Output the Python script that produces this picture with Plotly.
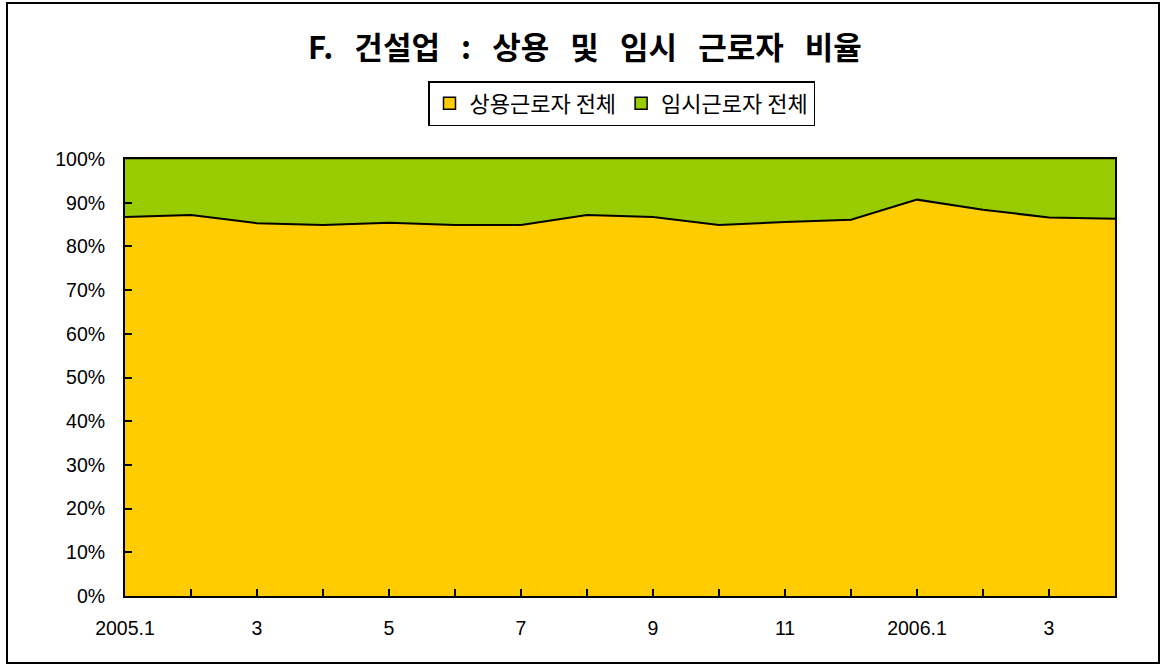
import plotly.graph_objects as go

months = ["2005.1", "2", "3", "4", "5", "6", "7", "8", "9", "10", "11", "12",
          "2006.1", "2", "3", "4"]
tick_labels = ["2005.1", "", "3", "", "5", "", "7", "", "9", "", "11", "",
               "2006.1", "", "3", ""]
regular = [86.7, 87.2, 85.3, 84.9, 85.4, 84.9, 84.9, 87.2, 86.7, 84.9, 85.6, 86.1,
           90.7, 88.4, 86.6, 86.3]
temporary = [13.3, 12.8, 14.7, 15.1, 14.6, 15.1, 15.1, 12.8, 13.3, 15.1, 14.4, 13.9,
             9.3, 11.6, 13.4, 13.7]
series_names = ["상용근로자 전체", "임시근로자 전체"]
series_colors = ["#FFCC00", "#99CC00"]
title_words = ["F.", "건설업", ":", "상용", "및", "임시", "근로자", "비율"]
title_text = "&nbsp;&nbsp;&nbsp;".join(title_words)

x = list(range(len(months)))
font_family = "Liberation Sans, Noto Sans CJK KR, sans-serif"
kr_font = "Noto Sans CJK KR, sans-serif"

fig = go.Figure()
fig.add_trace(go.Scatter(
    x=x, y=regular, name=series_names[0], stackgroup="one", mode="lines",
    line=dict(color="black", width=2), fillcolor=series_colors[0],
    customdata=months, showlegend=False,
))
fig.add_trace(go.Scatter(
    x=x, y=temporary, name=series_names[1], stackgroup="one", mode="lines",
    line=dict(color="black", width=0.5), fillcolor=series_colors[1],
    customdata=months, showlegend=False,
))
# legend entries (square swatches like the original)
for name, col in zip(series_names, series_colors):
    fig.add_trace(go.Scatter(
        x=[None], y=[None], mode="markers", name=name,
        marker=dict(symbol="square", size=12, color=col,
                    line=dict(color="black", width=1.5)),
    ))

W, H = 1162, 665
L, R, T, B = 125, 1115, 159, 596
pw, ph = R - L, B - T

def px_x(v):
    return (v - L) / pw

def px_y(v):
    return (B - v) / ph

fig.update_layout(
    width=W, height=H,
    margin=dict(l=L, r=W - R, t=T, b=H - B, autoexpand=False),
    paper_bgcolor="white", plot_bgcolor="white",
    title=dict(text="<b>" + title_text + "</b>", x=px_x(585), xanchor="center",
               xref="paper", y=1 - 48 / H, yanchor="middle",
               font=dict(family=kr_font, size=31, color="black")),
    legend=dict(orientation="h", x=px_x(621.5), xanchor="center",
                y=px_y(81), yanchor="top",
                bordercolor="black", borderwidth=1.5, bgcolor="white",
                font=dict(family=kr_font, size=22, color="black"),
                itemwidth=30, tracegroupgap=0, traceorder="normal"),
    showlegend=True,
    shapes=[dict(type="rect", xref="paper", yref="paper",
                 x0=px_x(7), x1=px_x(1159), y0=px_y(663), y1=px_y(3),
                 line=dict(color="black", width=2), fillcolor="rgba(0,0,0,0)",
                 layer="below")],
)
fig.update_xaxes(
    range=[0, len(months) - 1], tickvals=x, ticktext=tick_labels,
    ticks="inside", ticklen=7, tickwidth=1.5, tickcolor="black",
    showline=True, linecolor="black", linewidth=2, mirror=True,
    showgrid=False, zeroline=False, ticklabelstandoff=14,
    tickfont=dict(family=font_family, size=19.5, color="black"),
)
fig.update_yaxes(
    range=[0, 100], tickvals=list(range(0, 101, 10)),
    ticktext=[f"{v}%" for v in range(0, 101, 10)],
    ticks="inside", ticklen=7, tickwidth=1.5, tickcolor="black",
    showline=True, linecolor="black", linewidth=2, mirror=True,
    showgrid=False, zeroline=False, ticklabelstandoff=14,
    tickfont=dict(family=font_family, size=19.5, color="black"),
)

fig.write_html("out.html", config={"displayModeBar": False},
               post_script="document.body.style.margin='0';document.body.style.padding='0';")
